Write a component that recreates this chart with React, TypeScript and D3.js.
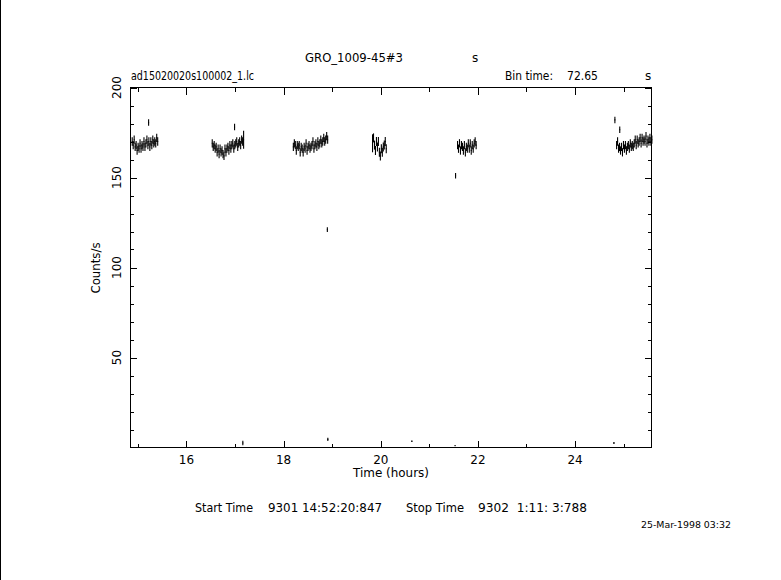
import React from "react";
import * as d3 from "d3";

// ---- data ----
const binSeconds = 72.65;
const segStarts = [14.8724, 16.52, 18.19, 19.82, 21.57, 24.845];
const seg1 = [170, 168, 171, 167, 168, 165, 167, 166, 169, 166, 168, 167, 170, 167, 169, 171, 168, 170, 167, 170, 168, 171, 169, 170, 169, 172, 170];
const seg2 = [169, 167, 168, 166, 167, 164, 166, 163, 166, 164, 165, 163, 162, 166, 164, 166, 167, 165, 168, 166, 168, 169, 166, 168, 169, 170, 167, 169, 170, 168, 171, 170, 171];
const seg3 = [167, 169, 168, 165, 168, 167, 168, 164, 167, 166, 164, 167, 166, 169, 165, 167, 168, 166, 167, 168, 170, 166, 168, 169, 167, 170, 168, 169, 171, 169, 170, 172, 170, 171, 173, 171];
const seg4 = [169, 172, 168, 165, 170, 167, 170, 164, 162, 166, 164, 167, 168, 170, 166];
const seg5 = [168, 166, 169, 165, 168, 167, 165, 168, 164, 167, 166, 169, 166, 169, 165, 168, 166, 169, 170, 168];
const seg6 = [168, 170, 166, 167, 165, 167, 164, 168, 166, 168, 165, 167, 168, 166, 169, 167, 168, 167, 169, 171, 168, 171, 169, 170, 172, 169, 172, 170, 171, 170, 173, 169, 171, 170, 172, 170, 171];
const segValues = [seg1, seg2, seg3, seg4, seg5, seg6];
const segErrors = [2.3, 2.3, 2.3, 2.5, 2.3, 2.3];
const bigErrIdx = [[], [32], [], [0], [], []]; // bins with wide error bars
const bigErr = 5;

const outT = [15.22, 16.99, 18.9, 21.54, 24.82, 24.92];
const outV = [180.5, 178, 121, 151, 182, 176.5];
const outE = [1.8, 1.8, 1.3, 1.5, 1.8, 1.8];

const lowT = [17.16, 18.91, 20.64, 21.53, 24.8];
const lowV = [2.5, 4.5, 3.5, 1, 2.5];
const lowE = [1.2, 0.9, 0.4, 0.2, 0.5];

const xMajor = [16, 18, 20, 22, 24];
const xMinor = [15, 17, 19, 21, 23, 25];
const yMajor = [50, 100, 150, 200];
const yMinor = [10, 20, 30, 40, 60, 70, 80, 90, 110, 120, 130, 140, 160, 170, 180, 190];

const FONT = "'DejaVu Sans', sans-serif";

export default function App() {
  const W = 781, H = 580;
  const L = 130, R = 652, T = 87.5, B = 447.5;
  const x = d3.scaleLinear().domain([14.837, 25.584]).range([L, R]);
  const y = d3.scaleLinear().domain([0, 200]).range([447.5, 87.5]);
  const bin = binSeconds / 3600;

  const marks: JSX.Element[] = [];
  segValues.forEach((vals, s) => {
    vals.forEach((v, i) => {
      const t = segStarts[s] + (i + 0.5) * bin;
      const e = bigErrIdx[s].includes(i) ? bigErr : segErrors[s];
      marks.push(
        <g key={`s${s}-${i}`}>
          <line x1={x(t - bin / 2)} x2={x(t + bin / 2)} y1={y(v)} y2={y(v)} />
          <line x1={x(t)} x2={x(t)} y1={y(v - e)} y2={y(v + e)} />
        </g>
      );
    });
  });
  const pts = (T_: number[], V: number[], E: number[], k: string) =>
    T_.map((t, i) => (
      <g key={`${k}${i}`}>
        <line x1={x(t - bin / 2)} x2={x(t + bin / 2)} y1={y(V[i])} y2={y(V[i])} />
        <line x1={x(t)} x2={x(t)} y1={y(V[i] - E[i])} y2={y(V[i] + E[i])} />
      </g>
    ));

  const ticks: JSX.Element[] = [];
  const maj = 7, min = 4;
  xMajor.forEach((v) => {
    const px = Math.round(x(v)) + 0.5;
    ticks.push(<line key={`xb${v}`} x1={px} x2={px} y1={B} y2={B - maj} />);
    ticks.push(<line key={`xt${v}`} x1={px} x2={px} y1={T} y2={T + maj} />);
  });
  xMinor.forEach((v) => {
    const px = Math.round(x(v)) + 0.5;
    ticks.push(<line key={`xbm${v}`} x1={px} x2={px} y1={B} y2={B - min} />);
    ticks.push(<line key={`xtm${v}`} x1={px} x2={px} y1={T} y2={T + min} />);
  });
  yMajor.forEach((v) => {
    const py = Math.round(y(v)) + 0.5;
    ticks.push(<line key={`yl${v}`} x1={L} x2={L + maj} y1={py} y2={py} />);
    ticks.push(<line key={`yr${v}`} x1={R} x2={R - maj} y1={py} y2={py} />);
  });
  yMinor.forEach((v) => {
    const py = Math.round(y(v)) + 0.5;
    ticks.push(<line key={`ylm${v}`} x1={L} x2={L + min} y1={py} y2={py} />);
    ticks.push(<line key={`yrm${v}`} x1={R} x2={R - min} y1={py} y2={py} />);
  });

  const txt = { fontFamily: FONT, fontSize: 12, fill: "#000" } as const;

  return (
    <svg width={W} height={H} style={{ position: "absolute", left: 0, top: 0, background: "#fff" }}>
      <rect x={0} y={0} width={W} height={H} fill="#fff" />
      <line x1={0.5} x2={0.5} y1={0} y2={H} stroke="#000" strokeWidth={1} />
      <g stroke="#000" strokeWidth={1} shapeRendering="crispEdges">
        <rect x={L + 0.5} y={T} width={R - L - 1} height={B - T} fill="none" />
        {ticks}
      </g>
      <g stroke="#000" strokeWidth={1.1}>
        {marks}
        {pts(outT, outV, outE, "o")}
        {pts(lowT, lowV, lowE, "l")}
      </g>

      {/* titles */}
      <text {...txt} x={305} y={62} textLength={98} lengthAdjust="spacingAndGlyphs">GRO_1009-45#3</text>
      <text {...txt} x={472} y={62}>s</text>
      <text {...txt} x={131} y={80} textLength={123} lengthAdjust="spacingAndGlyphs">ad15020020s100002_1.lc</text>
      <text {...txt} x={505} y={80} textLength={48} lengthAdjust="spacingAndGlyphs">Bin time:</text>
      <text {...txt} x={567} y={80} textLength={31} lengthAdjust="spacingAndGlyphs">72.65</text>
      <text {...txt} x={645} y={80}>s</text>

      {/* x tick labels */}
      {xMajor.map((v) => (
        <text key={`xl${v}`} {...txt} x={x(v)} y={464} textAnchor="middle">{v}</text>
      ))}
      <text {...txt} x={391} y={477} textAnchor="middle" textLength={76} lengthAdjust="spacingAndGlyphs">Time (hours)</text>

      {/* y tick labels */}
      {yMajor.map((v) => (
        <text key={`yl${v}`} {...txt} transform={`translate(121,${y(v)}) rotate(-90)`} textAnchor="middle">{v}</text>
      ))}
      <text {...txt} transform={`translate(100,268) rotate(-90)`} textAnchor="middle" textLength={51} lengthAdjust="spacingAndGlyphs">Counts/s</text>

      {/* footer */}
      <text {...txt} x={195} y={512} textLength={58} lengthAdjust="spacingAndGlyphs">Start Time</text>
      <text {...txt} x={268} y={512} textLength={114} lengthAdjust="spacingAndGlyphs">9301 14:52:20:847</text>
      <text {...txt} x={406} y={512} textLength={58} lengthAdjust="spacingAndGlyphs">Stop Time</text>
      <text {...txt} x={478} y={512} textLength={109} lengthAdjust="spacingAndGlyphs" style={{ whiteSpace: "pre" }}>9302  1:11: 3:788</text>
      <text {...txt} fontSize={8} x={641} y={528} textLength={90} lengthAdjust="spacingAndGlyphs">25-Mar-1998 03:32</text>
    </svg>
  );
}
